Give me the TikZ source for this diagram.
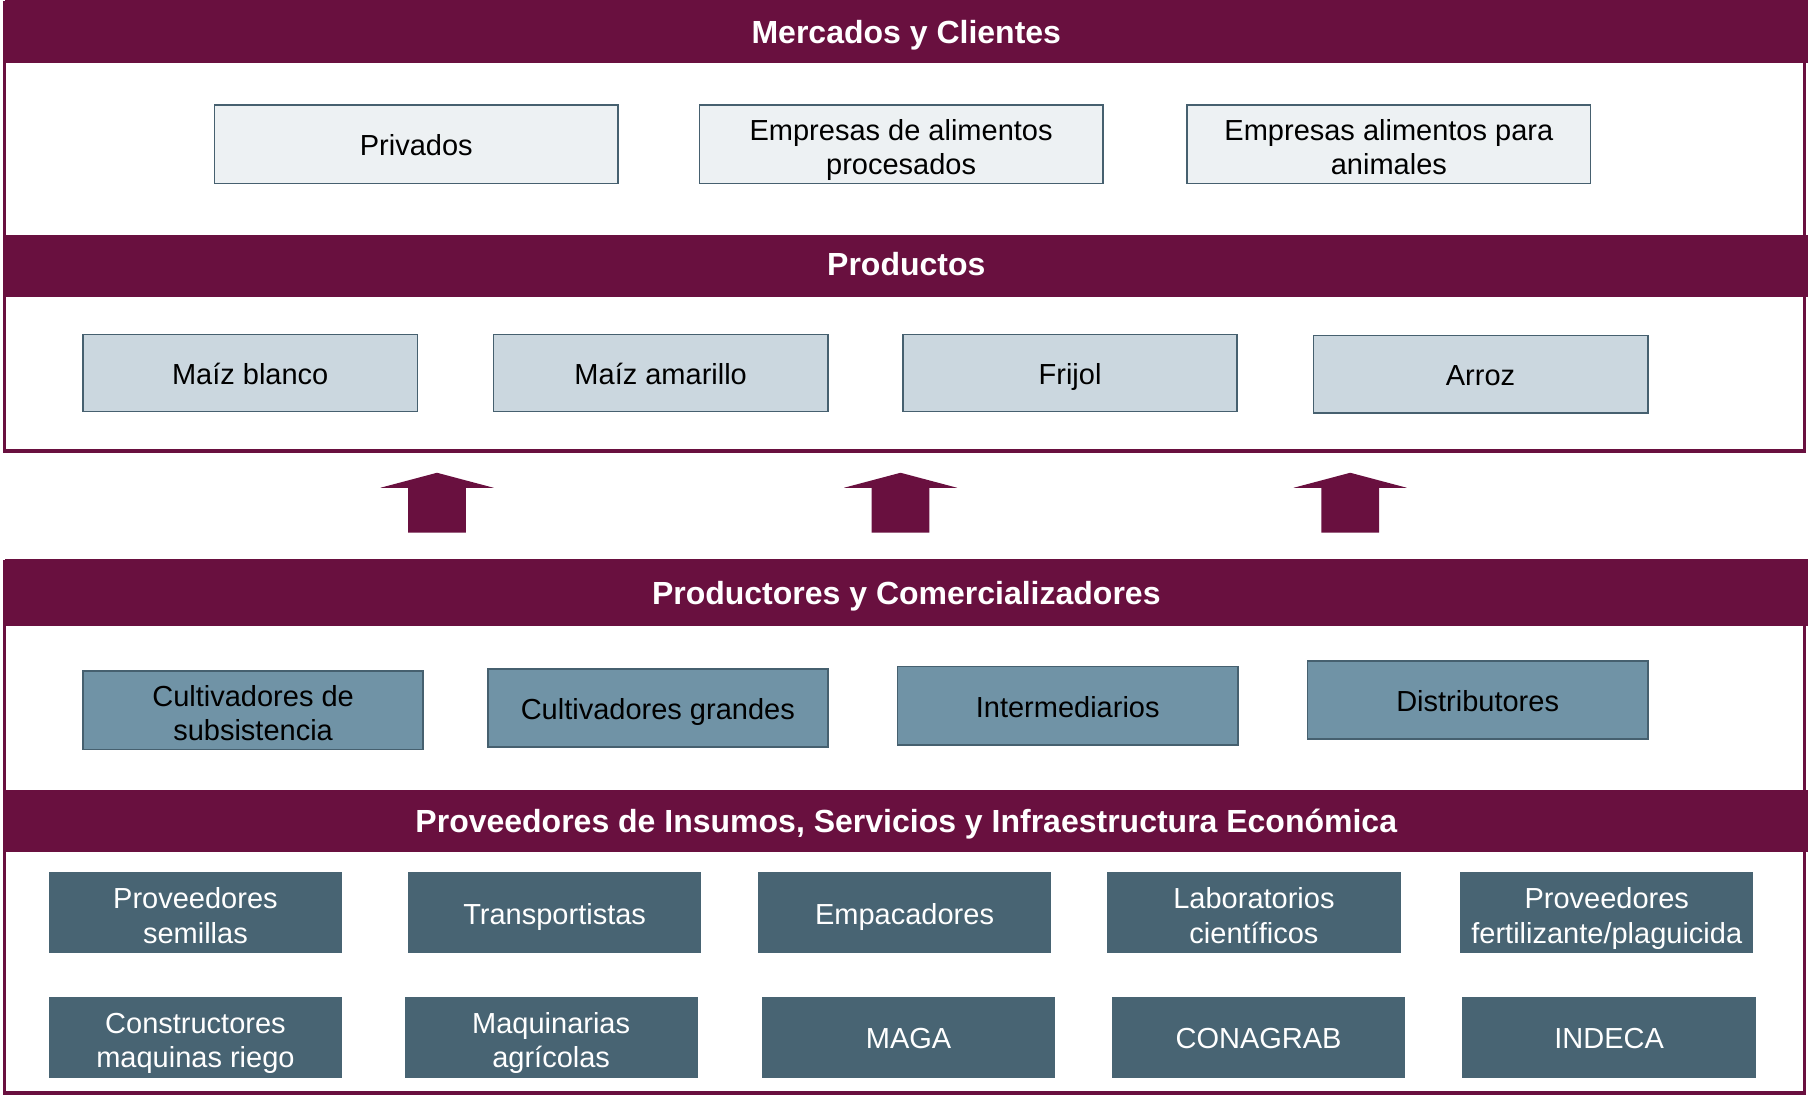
\documentclass[tikz,border=0pt]{standalone}
\usepackage{fontspec}
\setmainfont{Liberation Sans}
\definecolor{bandred}{HTML}{69103F}
\definecolor{lightbox}{HTML}{EDF1F3}
\definecolor{prodbox}{HTML}{CBD7DF}
\definecolor{midbox}{HTML}{7093A6}
\definecolor{darkbox}{HTML}{486473}
\definecolor{edge}{HTML}{46606F}
\newcommand\boxstrut{\rule[-6pt]{0pt}{35.2pt}}
\newcommand\tallstrut{\rule[-6pt]{0pt}{38.7pt}}
\tikzset{
  band/.style={fill=bandred},
  bandtitle/.style={text=white,font=\fontsize{32}{38}\selectfont\bfseries,inner sep=0pt,anchor=base},
  frame/.style={draw=bandred,line width=3.4pt},
  basebox/.style={draw=edge,line width=1.6pt,inner sep=0pt,align=center,
    font=\fontsize{29}{34.6}\selectfont,
    execute at begin node=\boxstrut, execute at end node=\boxstrut},
  topbox/.style={basebox,fill=lightbox,minimum width=403.6pt,minimum height=78.4pt},
  prodnode/.style={basebox,fill=prodbox,minimum width=334.4pt,minimum height=77.3pt},
  actor/.style={basebox,fill=midbox,minimum width=340.2pt,minimum height=78.4pt},
  supplier/.style={basebox,fill=darkbox,draw=darkbox,text=white,minimum width=291.7pt,minimum height=79.6pt},
  bigarrow/.style={fill=bandred}
}
\begin{document}
\begin{tikzpicture}[x=1.1531pt,y=-1.1531pt]
\useasboundingbox (0,0) rectangle (1568,951);
% frames
\draw[frame] (4,2) rectangle (1565,391);
\draw[frame] (4,487) rectangle (1565,948);
% bands
\fill[band] (4,0) rectangle (1568,55);
\fill[band] (4,204) rectangle (1568,258);
\fill[band] (4,485) rectangle (1568,543);
\fill[band] (4,685) rectangle (1568,739);
\node[bandtitle] (t1) at (786,37.5) {Mercados y Clientes};
\node[bandtitle] (t2) at (786,239) {Productos};
\node[bandtitle] (t3) at (786,524) {Productores y Comercializadores};
\node[bandtitle] (t4) at (786,722) {Proveedores de Insumos, Servicios y Infraestructura Económica};
% markets
\node[topbox] (m1) at (361,125) {Privados};
\node[topbox] (m2) at (781.5,125) {\tallstrut Empresas de alimentos\\procesados};
\node[topbox] (m3) at (1204.5,125) {\tallstrut Empresas alimentos para\\animales};
% products
\node[prodnode] (p1) at (217,323.5) {Maíz blanco};
\node[prodnode] (p2) at (573,323.5) {Maíz amarillo};
\node[prodnode] (p3) at (928,323.5) {Frijol};
\node[prodnode] (p4) at (1284,324.5) {Arroz};
% arrows
\foreach \cx/\nm in {379/a1,781/a2,1171/a3}{
  \fill[bigarrow] (\cx,410) -- (\cx+49,423) -- (\cx+25,423) -- (\cx+25,462)
     -- (\cx-25,462) -- (\cx-25,423) -- (\cx-49,423) -- cycle;
}
% producers
\node[actor] (c1) at (219.5,616) {\tallstrut Cultivadores de\\subsistencia};
\node[actor] (c2) at (570.5,614) {Cultivadores grandes};
\node[actor] (c3) at (926,612) {Intermediarios};
\node[actor] (c4) at (1281.5,607) {Distributores};
% suppliers row A
\node[supplier] (s1) at (169.5,791.5) {\tallstrut Proveedores\\semillas};
\node[supplier] (s2) at (481,791.5) {Transportistas};
\node[supplier] (s3) at (784.5,791.5) {Empacadores};
\node[supplier] (s4) at (1087.5,791.5) {\tallstrut Laboratorios\\científicos};
\node[supplier] (s5) at (1393.5,791.5) {\tallstrut Proveedores\\fertilizante/plaguicida};
% suppliers row B
\node[supplier] (s6) at (169.5,899.5) {\tallstrut Constructores\\maquinas riego};
\node[supplier] (s7) at (478,899.5) {\tallstrut Maquinarias\\agrícolas};
\node[supplier] (s8) at (788,899.5) {MAGA};
\node[supplier] (s9) at (1091.5,899.5) {CONAGRAB};
\node[supplier] (s10) at (1395.5,899.5) {INDECA};
\end{tikzpicture}
\end{document}
